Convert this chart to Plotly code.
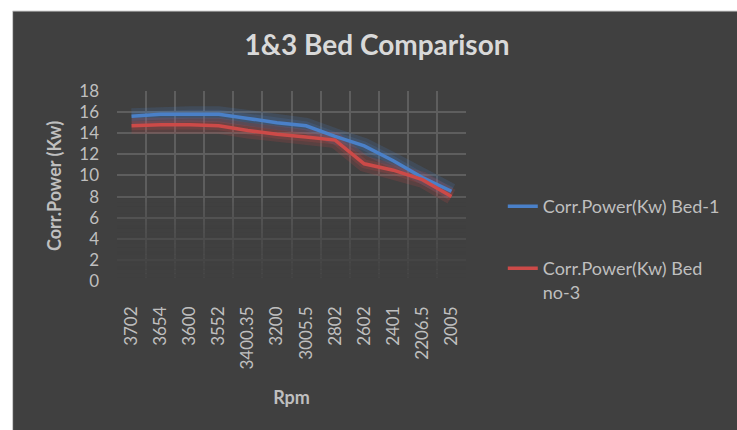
import plotly.graph_objects as go

rpm_labels = ["3702", "3654", "3600", "3552", "3400.35", "3200", "3005.5",
              "2802", "2602", "2401", "2206.5", "2005"]
bed1_power = [15.6, 15.8, 15.8, 15.8, 15.4, 15.0, 14.7, 13.7, 12.8, 11.4, 9.8, 8.5]
bed3_power = [14.7, 14.8, 14.8, 14.7, 14.25, 13.9, 13.65, 13.35, 11.1, 10.5, 9.6, 8.0]

y_ticks = list(range(0, 20, 2))

BG = "#404040"
TXT = "#bfbfbf"
FONT = "Lato, 'Open Sans', sans-serif"
BLUE = "#4a80c8"
RED = "#cc4a48"
GRID = "#5e5e5e"

W, H = 737, 430
L, R, T, B = 117, 269, 91, 149

xi = list(range(len(rpm_labels)))
n = len(rpm_labels)

fig = go.Figure()

# fade of the gridlines toward the bottom (Excel-style gradient gridlines),
# built as stacked translucent bands
fade_top = 8.5
nb = 24
for i in range(nb):
    y0 = fade_top * i / nb - (0.3 if i == 0 else 0)
    y1 = fade_top * (i + 1) / nb
    a = max(0.0, 1.0 - (i + 0.5) / nb) ** 0.8
    fig.add_trace(go.Scatter(x=[-1, n, n, -1], y=[y0, y0, y1, y1], mode="none",
                             fill="toself", fillcolor=f"rgba(64,64,64,{a:.3f})",
                             hoverinfo="skip", showlegend=False))

# glow layers
for vals, col in [(bed1_power, "rgba(74,128,200,0.18)"), (bed3_power, "rgba(204,74,72,0.18)")]:
    fig.add_trace(go.Scatter(x=xi, y=vals, mode="lines",
                             line=dict(color=col, width=16),
                             hoverinfo="skip", showlegend=False))
    fig.add_trace(go.Scatter(x=xi, y=vals, mode="lines",
                             line=dict(color=col, width=9),
                             hoverinfo="skip", showlegend=False))

fig.add_trace(go.Scatter(x=xi, y=bed1_power, mode="lines",
                         name="Corr.Power(Kw) Bed-1",
                         line=dict(color=BLUE, width=3.5), legend="legend"))
fig.add_trace(go.Scatter(x=xi, y=bed3_power, mode="lines",
                         name="Corr.Power(Kw) Bed<br>no-3",
                         line=dict(color=RED, width=3.5), legend="legend2"))

pw = W - L - R
ph = H - T - B

def px_x(x):
    return (x - L) / pw

def px_y(y):
    return (H - B - y) / ph

# chart background panel
fig.add_shape(type="rect", xref="paper", yref="paper",
              x0=px_x(12), x1=px_x(W + 5), y0=px_y(H + 5), y1=px_y(11),
              fillcolor=BG, line=dict(color="#d0d0d0", width=1), layer="below")

fig.update_layout(
    width=W, height=H,
    margin=dict(l=L, r=R, t=T, b=B, pad=0),
    paper_bgcolor="white",
    plot_bgcolor="rgba(0,0,0,0)",
    font=dict(family=FONT, color=TXT, size=17),
    title=dict(text="<b>1&amp;3 Bed Comparison</b>", x=377 / W, xanchor="center",
               y=1 - 45 / H, yanchor="middle", xref="container", yref="container",
               font=dict(size=28, color="#d9d9d9", family=FONT)),
    showlegend=True,
    legend=dict(x=px_x(505), y=px_y(188), xanchor="left", yanchor="top",
                bgcolor="rgba(0,0,0,0)", font=dict(size=18, color=TXT, family=FONT)),
    legend2=dict(x=px_x(505), y=px_y(250), xanchor="left", yanchor="top", valign="top",
                 bgcolor="rgba(0,0,0,0)", font=dict(size=18, color=TXT, family=FONT)),
)

fig.update_xaxes(range=[-0.5, n - 0.5], tickmode="array", tickvals=xi, ticktext=rpm_labels,
                 showgrid=False,
                 minor=dict(tick0=-0.5, dtick=1, showgrid=True, gridcolor=GRID, gridwidth=2, ticks=""),
                 ticks="", tickangle=-90, showline=False, zeroline=False,
                 ticklabelstandoff=21,
                 tickfont=dict(size=17, color=TXT),
                 title=dict(text="<b>Rpm</b>", font=dict(size=18, color=TXT), standoff=22))
fig.update_yaxes(range=[0, 18], tickvals=y_ticks, showgrid=True, gridcolor=GRID,
                 gridwidth=2, zeroline=False, showline=False, ticks="",
                 ticklabelstandoff=17,
                 tickfont=dict(size=17, color=TXT),
                 title=dict(text="<b>Corr.Power (Kw)</b>", font=dict(size=18, color=TXT), standoff=12))

fig.write_html("out.html", config={"displayModeBar": False},
               post_script="document.body.style.margin='0';document.body.style.overflow='hidden';")
